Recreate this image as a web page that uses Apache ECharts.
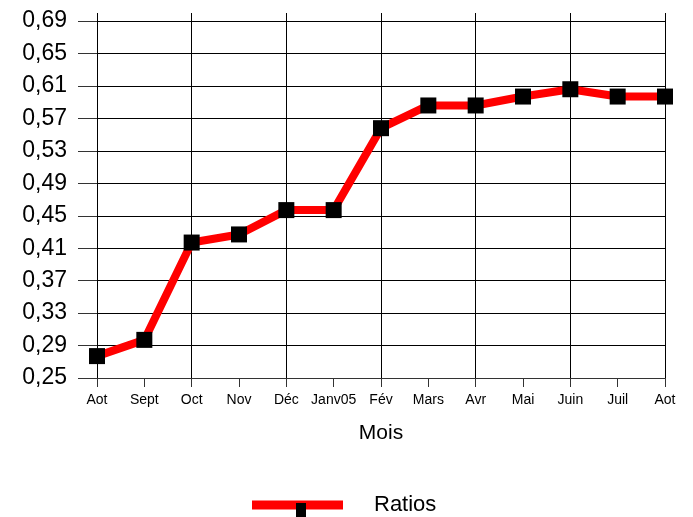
<!DOCTYPE html>
<html>
<head>
<meta charset="utf-8">
<script src="https://cdn.jsdelivr.net/npm/echarts@6/dist/echarts.min.js"></script>
<style>
  html, body { margin: 0; padding: 0; background: #fff; }
  #main { width: 693px; height: 517px; }
</style>
</head>
<body>
<div id="main"></div>
<script>
// mois (axe des x)
const mois = ['Aot', 'Sept', 'Oct', 'Nov', 'Déc', 'Janv05', 'Fév', 'Mars', 'Avr', 'Mai', 'Juin', 'Juil', 'Aot']
// valeurs
const ratios = [0.277, 0.297, 0.417, 0.427, 0.457, 0.457, 0.558, 0.586, 0.586, 0.597, 0.606, 0.597, 0.597]
// axe des y
const yMin = 0.25
const yMax = 0.70
const yStep = 0.04

const myChart = echarts.init(document.getElementById('main'))

const option = {
  animation: false,
  textStyle: { fontFamily: 'Liberation Sans, Arial, sans-serif' },
  grid: {
    left: 97,
    right: 28,
    top: 13,
    bottom: 139
  },
  legend: {
    left: 247,
    top: 489,
    icon: 'rect',
    itemWidth: 91,
    itemHeight: 9,
    data: [{ name: 'Ratios', itemStyle: { color: '#ff0000' } }],
    textStyle: { color: '#000', fontSize: 22, padding: [0, 0, 0, 26] }
  },
  graphic: [
    // petit carré noir du symbole de la légende (coupé en bas)
    { type: 'rect', left: 296, top: 503, z: 10, shape: { width: 10, height: 14 }, style: { fill: '#000' } }
  ],
  xAxis: {
    type: 'category',
    boundaryGap: false,
    data: mois,
    name: 'Mois',
    nameLocation: 'middle',
    nameGap: 45,
    nameTextStyle: { color: '#000', fontSize: 21 },
    axisLine: { lineStyle: { color: '#333', width: 1 } },
    axisTick: { show: true, interval: 0, length: 9, lineStyle: { color: '#333' } },
    axisLabel: { interval: 0, color: '#000', fontSize: 14, margin: 15 },
    splitLine: { show: true, interval: 1, lineStyle: { color: '#000', width: 1 } }
  },
  yAxis: {
    type: 'value',
    min: yMin,
    max: yMax,
    interval: yStep,
    axisLine: { show: false },
    axisTick: { show: true, length: 19, lineStyle: { color: '#333' } },
    axisLabel: {
      color: '#000',
      fontSize: 23,
      margin: 30,
      showMaxLabel: false,
      formatter: v => v.toFixed(2).replace('.', ',')
    },
    splitLine: { show: true, showMaxLine: false, lineStyle: { color: '#000', width: 1 } }
  },
  series: [
    {
      name: 'Ratios',
      type: 'line',
      data: ratios,
      symbol: 'rect',
      symbolSize: 16,
      lineStyle: { color: '#ff0000', width: 8 },
      itemStyle: { color: '#000' }
    }
  ]
}

myChart.setOption(option)
</script>
</body>
</html>
